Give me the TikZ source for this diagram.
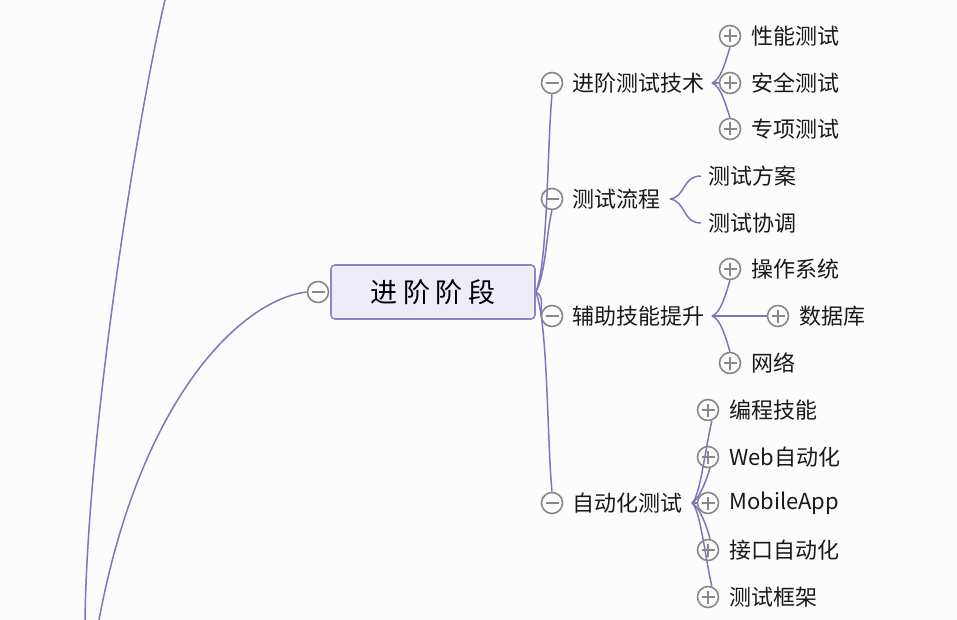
\documentclass[tikz,border=0pt]{standalone}
\usepackage{fontspec}
\newfontfamily\cjk{Noto Sans CJK SC}
\usetikzlibrary{backgrounds}
\definecolor{bgc}{HTML}{FCFCFD}
\definecolor{linec}{HTML}{7D76BA}
\definecolor{togc}{HTML}{888888}
\definecolor{cfill}{HTML}{EEECF8}
\definecolor{cdraw}{HTML}{8C86C8}
\tikzset{
  tog/.style={circle, draw=togc, line width=1.6pt, minimum size=21pt, inner sep=0pt},
  minusbtn/.style={tog, path picture={\draw[togc, line width=1.6pt]
      ([xshift=-6.5pt]path picture bounding box.center) -- ([xshift=6.5pt]path picture bounding box.center);}},
  plusbtn/.style={tog, path picture={\draw[togc, line width=1.6pt]
      ([xshift=-6.5pt]path picture bounding box.center) -- ([xshift=6.5pt]path picture bounding box.center)
      ([yshift=-6.5pt]path picture bounding box.center) -- ([yshift=6.5pt]path picture bounding box.center);}},
  lbl/.style={anchor=west, inner sep=0pt, text=black!90, font=\cjk\fontsize{22}{26}\selectfont},
  conn/.style={draw=linec, line width=1.5pt},
  central/.style={rectangle, rounded corners=4pt, draw=cdraw, line width=1.6pt, fill=cfill,
      minimum width=204pt, minimum height=54pt, inner sep=0pt, font=\cjk\fontsize{27}{30}\selectfont}
}
\begin{document}
\begin{tikzpicture}[x=1pt, y=-1pt]
\useasboundingbox (0,0) rectangle (957,620);

% central
\node[central] (C) at (433,292) {进\hspace{6pt}阶\hspace{6pt}阶\hspace{6pt}段};
\node[minusbtn] (L) at (318,292) {};
\coordinate (A1) at (99,620);
\coordinate (B0) at (165,0);
\coordinate (B1) at (85,620);

% main branches
\node[minusbtn] (M1) at (552,83) {};
\node[lbl] (T1) at (572,83) {进阶测试技术};
\node[minusbtn] (M2) at (552,199) {};
\node[lbl] (T2) at (572,199) {测试流程};
\node[minusbtn] (M3) at (552,316) {};
\node[lbl] (T3) at (572,316) {辅助技能提升};
\node[minusbtn] (M4) at (552,503) {};
\node[lbl] (T4) at (572,503) {自动化测试};

% junctions
\coordinate (J1) at (712,83);
\coordinate (J2) at (670,199);
\coordinate (J3) at (712,316);
\coordinate (J4) at (692,503);

% group 1
\node[plusbtn] (P11) at (730,36) {};
\node[lbl] at (751,36) {性能测试};
\node[plusbtn] (P12) at (730,83) {};
\node[lbl] at (751,83) {安全测试};
\node[plusbtn] (P13) at (730,129) {};
\node[lbl] at (751,129) {专项测试};

% group 2
\coordinate (Q21) at (701,176);
\coordinate (Q22) at (701,223);
\node[lbl] at (708,176) {测试方案};
\node[lbl] at (708,223) {测试协调};

% group 3
\node[plusbtn] (P31) at (730,269) {};
\node[lbl] at (751,269) {操作系统};
\node[plusbtn] (P32) at (778,316) {};
\node[lbl] at (799,316) {数据库};
\node[plusbtn] (P33) at (730,363) {};
\node[lbl] at (751,363) {网络};

% group 4
\node[plusbtn] (P41) at (708,410) {};
\node[lbl] at (729,410) {编程技能};
\node[plusbtn] (P42) at (708,457) {};
\node[lbl] at (729,457) {Web自动化};
\node[plusbtn] (P43) at (708,503) {};
\node[lbl] at (729,503) {MobileApp};
\node[plusbtn] (P44) at (708,550) {};
\node[lbl] at (729,550) {接口自动化};
\node[plusbtn] (P45) at (708,597) {};
\node[lbl] at (729,597) {测试框架};

\begin{scope}[on background layer]
\fill[bgc] (0,0) rectangle (957,620);
\path[conn] (L.west) .. controls (240,300) and (140,400) .. (A1);
\path[conn] (B0) .. controls (140,105) and (88,420) .. (B1);

\path[conn] (C.east) .. controls (548,262) and (547,150) .. (M1.south);
\path[conn] (C.east) .. controls (546,272) and (546,235) .. (M2.south);
\path[conn] (C.east) .. controls (544,296) and (541,306) .. (M3.west);
\path[conn] (C.east) .. controls (548,322) and (547,440) .. (M4.north);

\path[conn] (J1) .. controls (721,80) and (726,60) .. (P11.south);
\path[conn] (J1) -- (P12.west);
\path[conn] (J1) .. controls (721,86) and (726,106) .. (P13.north);

\path[conn] (J2) .. controls (686,197) and (682,176) .. (Q21);
\path[conn] (J2) .. controls (686,201) and (682,223) .. (Q22);

\path[conn] (J3) .. controls (721,313) and (726,293) .. (P31.south);
\path[conn] (J3) -- (P32.west);
\path[conn] (J3) .. controls (721,319) and (726,339) .. (P33.north);

\path[conn] (J4) .. controls (700,497) and (705,450) .. (P41.-70);
\path[conn] (J4) .. controls (700,499) and (708,475) .. (P42.-80);
\path[conn] (J4) -- (P43.west);
\path[conn] (J4) .. controls (700,507) and (708,530) .. (P44.80);
\path[conn] (J4) .. controls (700,509) and (705,556) .. (P45.70);
\end{scope}
\end{tikzpicture}
\end{document}
